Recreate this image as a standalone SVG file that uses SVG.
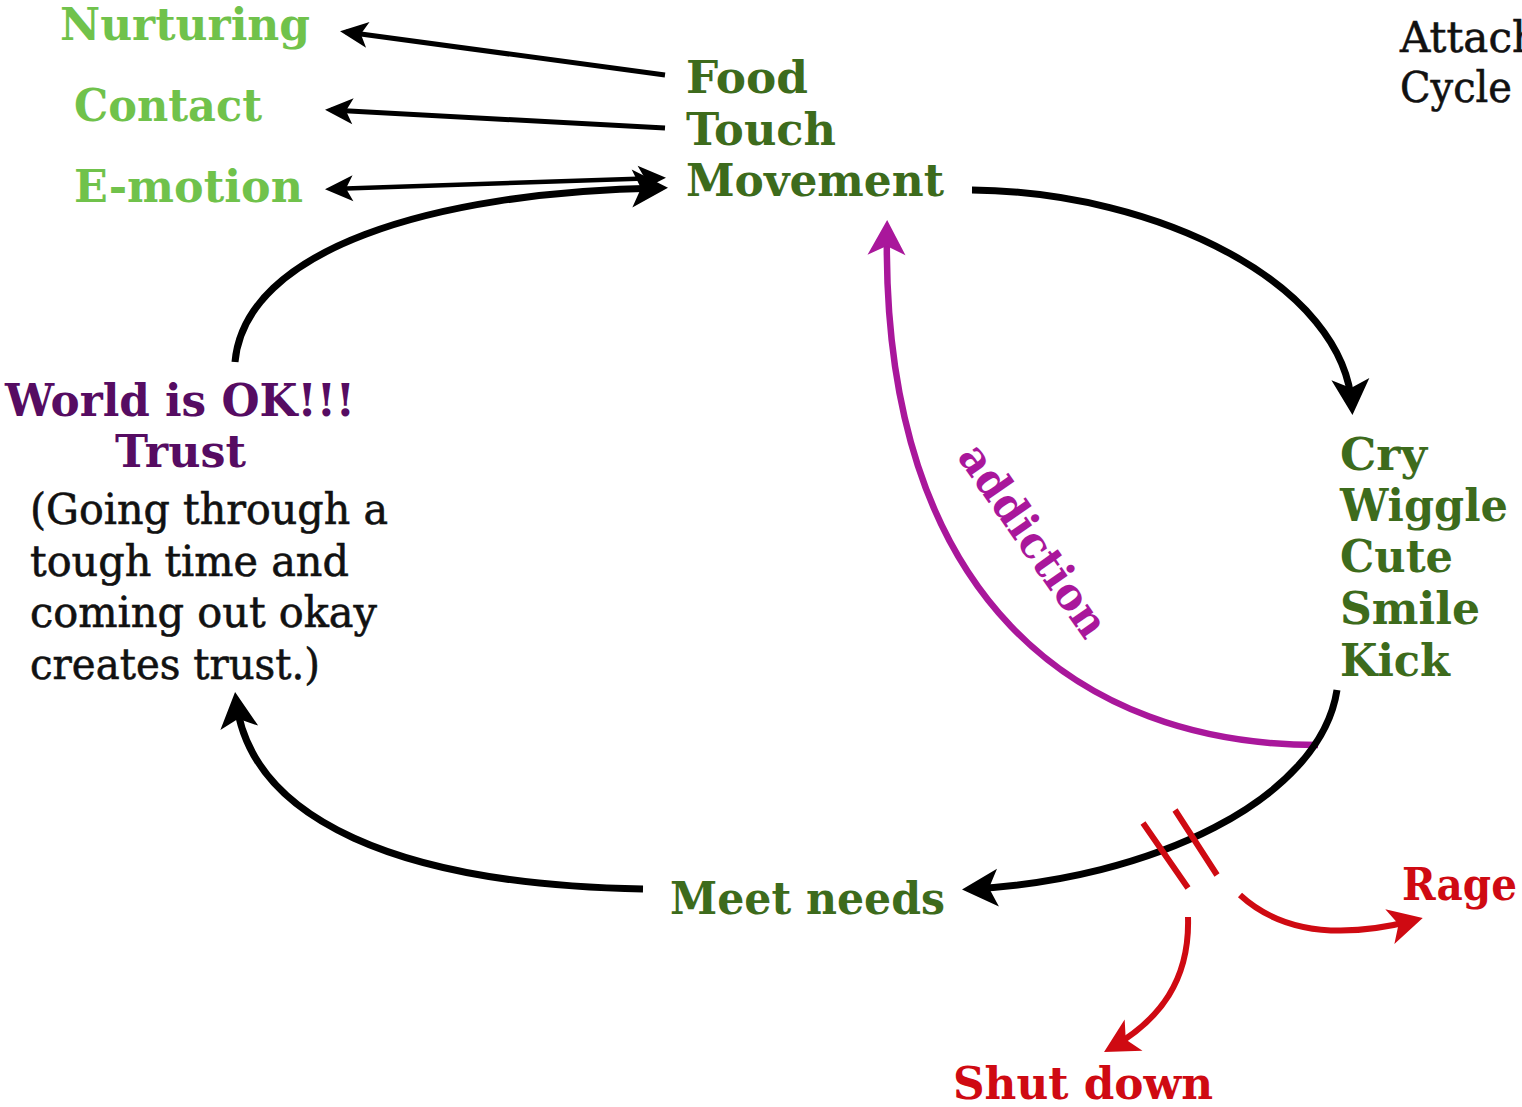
<svg xmlns="http://www.w3.org/2000/svg" width="1522" height="1107" viewBox="0 0 1522 1107">
<style>
.b{font-family:"DejaVu Serif","Liberation Serif",serif;font-weight:bold;font-size:44px}
.r{font-family:"DejaVu Serif","Liberation Serif",serif;font-size:42px;fill:#111;stroke:#111;stroke-width:0.6}
.lg{fill:#70c24b}
.dg{fill:#3d6b1c}
.pu{fill:#560c62}
.rd{fill:#cf0a12}
.mg{fill:#a9179b}
.k{fill:none;stroke:#000;stroke-linecap:butt}
</style>
<defs>
<marker id="ms" markerUnits="userSpaceOnUse" orient="auto-start-reverse" overflow="visible" refX="0" refY="0" markerWidth="1" markerHeight="1"><path d="M6,0 L-22,-13 L-15,0 L-22,13 Z" fill="#000"/></marker>
<marker id="mb" markerUnits="userSpaceOnUse" orient="auto" overflow="visible" refX="0" refY="0" markerWidth="1" markerHeight="1"><path d="M8,0 L-28,-19 L-19,0 L-28,19 Z" fill="#000"/></marker>
<marker id="mr" markerUnits="userSpaceOnUse" orient="auto" overflow="visible" refX="0" refY="0" markerWidth="1" markerHeight="1"><path d="M8,0 L-26,-18 L-17,0 L-26,18 Z" fill="#cf0a12"/></marker>
<marker id="mm" markerUnits="userSpaceOnUse" orient="auto" overflow="visible" refX="0" refY="0" markerWidth="1" markerHeight="1"><path d="M8,0 L-27,-19 L-18,0 L-27,19 Z" fill="#a9179b"/></marker>
</defs>
<rect width="1522" height="1107" fill="#fff"/>
<g id="connectors">
<path class="k" stroke-width="5" d="M665,75 L346,32" marker-end="url(#ms)"/>
<path class="k" stroke-width="5" d="M665,128 L331,110" marker-end="url(#ms)"/>
<path class="k" stroke-width="4.5" d="M331,189 L660,178" marker-start="url(#ms)" marker-end="url(#ms)"/>
<path d="M1318,745 C1080,745 880,600 887,228" fill="none" stroke="#a9179b" stroke-width="6.5" marker-end="url(#mm)"/>
<path class="k" stroke-width="7" d="M235,362 C245,250 430,192 660,188" marker-end="url(#mb)"/>
<path class="k" stroke-width="7" d="M972,190 C1160,192 1345,285 1352,407" marker-end="url(#mb)"/>
<path class="k" stroke-width="7" d="M1337,690 C1320,800 1150,880 970,889" marker-end="url(#mb)"/>
<path class="k" stroke-width="7" d="M643,889 C400,885 250,820 236,700" marker-end="url(#mb)"/>
<path d="M1143,823 L1188,888 M1175,810 L1217,875" stroke="#cf0a12" stroke-width="6" fill="none"/>
<path d="M1240,895 Q1300,950 1415,920" fill="none" stroke="#cf0a12" stroke-width="6" marker-end="url(#mr)"/>
<path d="M1188,917 C1190,980 1160,1020 1111,1048" fill="none" stroke="#cf0a12" stroke-width="6" marker-end="url(#mr)"/>
</g>
<g id="nurturing"><text class="b lg" x="60" y="40" textLength="250" lengthAdjust="spacingAndGlyphs">Nurturing</text></g>
<g id="contact"><text class="b lg" x="74" y="121" textLength="188" lengthAdjust="spacingAndGlyphs">Contact</text></g>
<g id="emotion"><text class="b lg" x="74" y="202" textLength="229" lengthAdjust="spacingAndGlyphs">E-motion</text></g>
<g id="food-touch-movement">
<text class="b dg" x="686" y="93" textLength="122" lengthAdjust="spacingAndGlyphs">Food</text>
<text class="b dg" x="686" y="145" textLength="150" lengthAdjust="spacingAndGlyphs">Touch</text>
<text class="b dg" x="686" y="196" textLength="258" lengthAdjust="spacingAndGlyphs">Movement</text>
</g>
<g id="title">
<text class="r" x="1400" y="52">Attach</text>
<text class="r" x="1400" y="102" textLength="112" lengthAdjust="spacingAndGlyphs">Cycle</text>
</g>
<g id="cry-group">
<text class="b dg" x="1340" y="470" textLength="87" lengthAdjust="spacingAndGlyphs">Cry</text>
<text class="b dg" x="1340" y="521" textLength="168" lengthAdjust="spacingAndGlyphs">Wiggle</text>
<text class="b dg" x="1340" y="572" textLength="113" lengthAdjust="spacingAndGlyphs">Cute</text>
<text class="b dg" x="1340" y="624" textLength="140" lengthAdjust="spacingAndGlyphs">Smile</text>
<text class="b dg" x="1340" y="676" textLength="110" lengthAdjust="spacingAndGlyphs">Kick</text>
</g>
<g id="meet-needs"><text class="b dg" x="670" y="914" textLength="275" lengthAdjust="spacingAndGlyphs">Meet needs</text></g>
<g id="world-ok">
<text class="b pu" x="5" y="416" textLength="350" lengthAdjust="spacingAndGlyphs">World is OK!!!</text>
<text class="b pu" x="115" y="467" textLength="131" lengthAdjust="spacingAndGlyphs">Trust</text>
<text class="r" x="30" y="524" textLength="358" lengthAdjust="spacingAndGlyphs">(Going through a</text>
<text class="r" x="30" y="576" textLength="319" lengthAdjust="spacingAndGlyphs">tough time and</text>
<text class="r" x="30" y="627" textLength="347" lengthAdjust="spacingAndGlyphs">coming out okay</text>
<text class="r" x="30" y="679" textLength="290" lengthAdjust="spacingAndGlyphs">creates trust.)</text>
</g>
<g id="addiction"><text class="b mg" x="1021" y="549" text-anchor="middle" transform="rotate(55 1021 549)" textLength="225" lengthAdjust="spacingAndGlyphs">addiction</text></g>
<g id="rage"><text class="b rd" x="1402" y="900" textLength="115" lengthAdjust="spacingAndGlyphs">Rage</text></g>
<g id="shut-down"><text class="b rd" x="953" y="1099" textLength="260" lengthAdjust="spacingAndGlyphs">Shut down</text></g>
</svg>
